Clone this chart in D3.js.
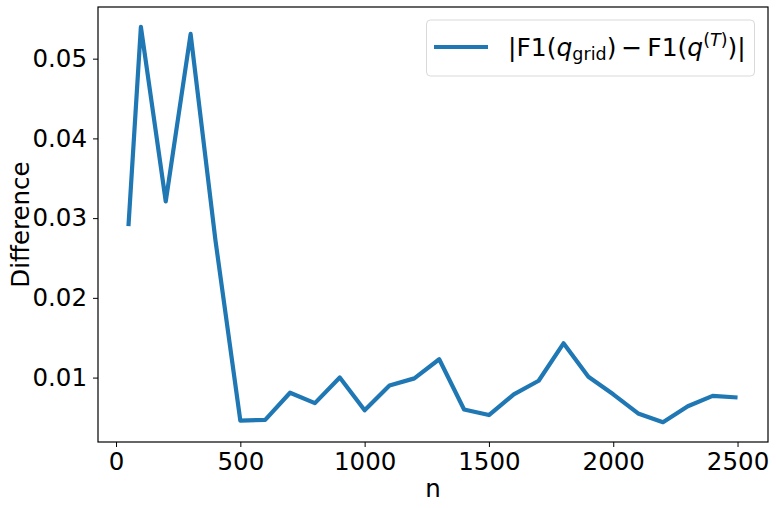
<!DOCTYPE html>
<html>
<head>
<meta charset="utf-8">
<script src="https://cdn.jsdelivr.net/npm/d3@7"></script>
<style>
  body { margin: 0; background: white; }
  text { font-family: "DejaVu Sans", sans-serif; }
</style>
</head>
<body>
<div id="chart"></div>
<script>
var nValues = [50, 100, 200, 300, 400, 500, 600, 700, 800, 900, 1000, 1100, 1200, 1300,
               1400, 1500, 1600, 1700, 1800, 1900, 2000, 2100, 2200, 2300, 2400, 2500];
var diffValues = [0.0290, 0.0540, 0.0321, 0.0531, 0.0272, 0.0046, 0.0047, 0.0081, 0.0068, 0.0100,
                  0.0059, 0.0090, 0.0099, 0.0123, 0.0060, 0.0053, 0.0079, 0.0096, 0.0143, 0.0101,
                  0.0079, 0.0055, 0.0044, 0.0064, 0.0077, 0.0075];
var xTicks = [0, 500, 1000, 1500, 2000, 2500];
var yTicks = [0.01, 0.02, 0.03, 0.04, 0.05];

var width = 776, height = 508;
var margin = {left: 98, right: 8, top: 7, bottom: 66};

var svg = d3.select("#chart").append("svg")
    .attr("width", width)
    .attr("height", height);

// matplotlib style 5% padding
var xMin = d3.min(nValues), xMax = d3.max(nValues);
var yMin = d3.min(diffValues), yMax = d3.max(diffValues);
var xPad = (xMax - xMin) * 0.05, yPad = (yMax - yMin) * 0.05;

var x = d3.scaleLinear()
    .domain([xMin - xPad, xMax + xPad])
    .range([margin.left, width - margin.right]);

var y = d3.scaleLinear()
    .domain([yMin - yPad, yMax + yPad])
    .range([height - margin.bottom, margin.top]);

var xAxis = svg.append("g")
    .attr("transform", "translate(0," + (height - margin.bottom) + ")")
    .call(d3.axisBottom(x).tickValues(xTicks).tickSize(5).tickPadding(6).tickFormat(d3.format("d")));

var yAxis = svg.append("g")
    .attr("transform", "translate(" + margin.left + ",0)")
    .call(d3.axisLeft(y).tickValues(yTicks).tickSize(5).tickPadding(6).tickFormat(d3.format(".2f")));

[xAxis, yAxis].forEach(function(a) {
  a.select(".domain").remove();
  a.selectAll("line").attr("stroke", "#000").attr("stroke-width", 1);
  a.selectAll("text")
      .attr("fill", "#000")
      .style("font-size", "24.5px")
      .style("font-family", "DejaVu Sans");
});

// frame
svg.append("rect")
    .attr("x", margin.left)
    .attr("y", margin.top)
    .attr("width", width - margin.left - margin.right)
    .attr("height", height - margin.top - margin.bottom)
    .attr("fill", "none")
    .attr("stroke", "#000")
    .attr("stroke-width", 1.2);

var line = d3.line()
    .x(function(d, i) { return x(nValues[i]); })
    .y(function(d) { return y(d); });

svg.append("path")
    .datum(diffValues)
    .attr("d", line)
    .attr("fill", "none")
    .attr("stroke", "#1f77b4")
    .attr("stroke-width", 4.2)
    .attr("stroke-linejoin", "round");

// axis labels
svg.append("text")
    .attr("x", (margin.left + width - margin.right) / 2)
    .attr("y", 497)
    .attr("text-anchor", "middle")
    .style("font-size", "24.5px")
    .text("n");

svg.append("text")
    .attr("transform", "translate(29," + ((margin.top + height - margin.bottom) / 2) + ") rotate(-90)")
    .attr("text-anchor", "middle")
    .style("font-size", "24.5px")
    .text("Difference");

// legend
var legend = svg.append("g");
legend.append("rect")
    .attr("x", 426.5)
    .attr("y", 20)
    .attr("width", 328)
    .attr("height", 56)
    .attr("rx", 4)
    .attr("fill", "white")
    .attr("fill-opacity", 0.8)
    .attr("stroke", "#d9d9d9");

legend.append("line")
    .attr("x1", 434).attr("x2", 488)
    .attr("y1", 47).attr("y2", 47)
    .attr("stroke", "#1f77b4")
    .attr("stroke-width", 4.2);

var lt = legend.append("text")
    .attr("x", 508)
    .attr("y", 56)
    .style("font-size", "25px");
lt.append("tspan").text("|F1(");
lt.append("tspan").style("font-style", "italic").text("q");
lt.append("tspan").attr("dy", 4).style("font-size", "17.5px").text("grid");
lt.append("tspan").attr("dy", -4).text(")\u2009\u2212\u2009F1(");
lt.append("tspan").style("font-style", "italic").text("q");
lt.append("tspan").attr("dy", -10).style("font-size", "17.5px").text("(");
lt.append("tspan").style("font-size", "17.5px").style("font-style", "italic").text("T");
lt.append("tspan").style("font-size", "17.5px").text(")");
lt.append("tspan").attr("dy", 10).text(")|");
</script>
</body>
</html>
